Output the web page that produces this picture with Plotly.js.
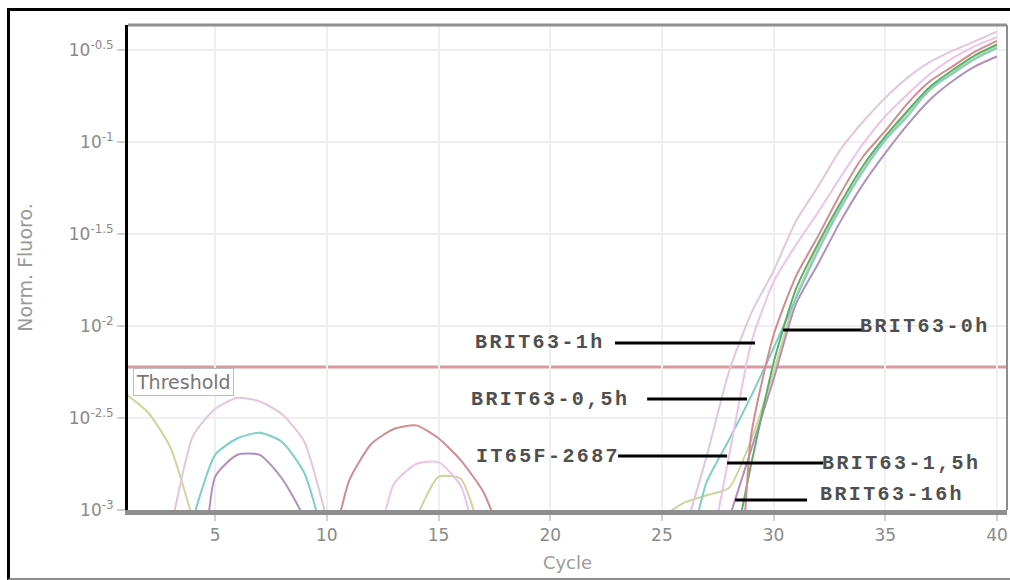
<!DOCTYPE html>
<html>
<head>
<meta charset="utf-8">
<script src="https://cdn.plot.ly/plotly-3.0.1.min.js"></script>
<style>
html,body{margin:0;padding:0;background:#fff;}
#wrap{position:relative;width:1010px;height:580px;overflow:hidden;}
#chart{position:absolute;left:0;top:0;width:1010px;height:580px;}
#frame{position:absolute;left:7px;top:8px;width:1003px;height:572px;box-sizing:border-box;border-top:3px solid #000;border-left:3px solid #000;border-bottom:2px solid #8c8c8c;pointer-events:none;}
text[style*="Liberation Mono"]{letter-spacing:2.4px;}
</style>
</head>
<body>
<div id="wrap"><div id="chart"></div><div id="frame"></div></div>
<script>
// Cycles 1..40
const cycles = [1,2,3,4,5,6,7,8,9,10,11,12,13,14,15,16,17,18,19,20,21,22,23,24,25,26,27,28,29,30,31,32,33,34,35,36,37,38,39,40];

// log10 of normalised fluorescence per cycle (values below 10^-3 fall off the axis)
const pinkA = [-3.5,-3.5,-3.1,-2.6,-2.45,-2.39,-2.41,-2.48,-2.63,-3.05,
  -3.5,-3.5,-3.5,-3.5,-3.5,-3.5,-3.5,-3.5,-3.5,-3.5,
  -3.5,-3.5,-3.5,-3.5,-3.5,-3.12,-2.71,-2.25,-1.93,-1.70,
  -1.43,-1.24,-1.04,-0.89,-0.76,-0.65,-0.565,-0.505,-0.453,-0.40];
const pinkB = [-3.5,-3.5,-3.5,-3.5,-3.5,-3.5,-3.5,-3.5,-3.5,-3.5,
  -3.5,-3.3,-2.86,-2.75,-2.74,-2.87,-3.3,-3.5,-3.5,-3.5,
  -3.5,-3.5,-3.5,-3.5,-3.5,-3.5,-3.29,-2.71,-2.09,-1.76,
  -1.56,-1.38,-1.19,-1.01,-0.86,-0.74,-0.63,-0.545,-0.48,-0.43];
const red = [-3.5,-3.5,-3.5,-3.5,-3.5,-3.5,-3.5,-3.5,-3.5,-3.3,
  -2.84,-2.64,-2.56,-2.54,-2.61,-2.73,-2.9,-3.2,-3.5,-3.5,
  -3.5,-3.5,-3.5,-3.5,-3.5,-3.5,-3.8,-4.0,-2.59,-2.05,
  -1.73,-1.51,-1.28,-1.08,-0.94,-0.79,-0.67,-0.59,-0.51,-0.45];
const green = [-3.5,-3.5,-3.5,-3.5,-3.5,-3.5,-3.5,-3.5,-3.5,-3.5,
  -3.5,-3.5,-3.5,-3.5,-3.5,-3.5,-3.5,-3.5,-3.5,-3.5,
  -3.5,-3.5,-3.5,-3.5,-3.5,-3.5,-3.5,-3.3,-2.75,-2.2,
  -1.80,-1.55,-1.33,-1.13,-0.97,-0.83,-0.70,-0.61,-0.53,-0.47];
const teal = [-3.5,-3.5,-3.5,-3.05,-2.7,-2.61,-2.58,-2.63,-2.8,-3.2,
  -3.5,-3.5,-3.5,-3.5,-3.5,-3.5,-3.5,-3.5,-3.5,-3.5,
  -3.5,-3.5,-3.5,-3.5,-3.5,-3.3,-2.85,-2.62,-2.38,-2.12,
  -1.85,-1.59,-1.36,-1.16,-0.99,-0.86,-0.71,-0.63,-0.55,-0.49];
const yellow = [-2.37,-2.47,-2.66,-3.05,-3.5,-3.5,-3.5,-3.5,-3.5,-3.5,
  -3.5,-3.5,-3.5,-3.05,-2.82,-2.83,-3.17,-3.5,-3.5,-3.5,
  -3.5,-3.5,-3.5,-3.5,-3.05,-2.96,-2.92,-2.88,-2.62,-2.25,
  -1.84,-1.57,-1.35,-1.15,-0.99,-0.84,-0.72,-0.62,-0.545,-0.48];
const purple = [-3.5,-3.5,-3.5,-4.0,-2.82,-2.7,-2.7,-2.83,-3.05,-3.5,
  -3.5,-3.5,-3.5,-3.5,-3.5,-3.5,-3.5,-3.5,-3.5,-3.5,
  -3.5,-3.5,-3.5,-3.5,-3.5,-3.5,-3.4,-3.05,-2.67,-2.29,
  -1.88,-1.66,-1.43,-1.23,-1.06,-0.905,-0.77,-0.67,-0.59,-0.535];

const thresholdLog = -2.223;

const xTickVals = [5,10,15,20,25,30,35,40];
const yTickExp = [-3,-2.5,-2,-1.5,-1,-0.5];
const yTickText = ['10<sup>-3</sup>','10<sup>-2.5</sup>','10<sup>-2</sup>','10<sup>-1.5</sup>','10<sup>-1</sup>','10<sup>-0.5</sup>'];

// sample labels: text, arrow tip (cycle, log), line start cycle, text anchor cycle/log, side
const labelText = ['BRIT63-1h','BRIT63-0,5h','IT65F-2687','BRIT63-0h','BRIT63-1,5h','BRIT63-16h'];
const labelTipX = [29.17, 28.81, 27.92, 30.43, 27.92, 28.28];
const labelTipY = [-2.092, -2.397, -2.707, -2.022, -2.745, -2.946];
const labelTailX = [22.9, 24.34, 23.04, 34.0, 32.22, 31.5];
const labelTextX = [22.55, 23.6, 23.2, 33.8, 32.08, 31.99];
const labelTextY = [-2.092, -2.397, -2.707, -2.0, -2.745, -2.918];
const labelSide = ['right','right','right','left','left','left'];

const series = [
  {y: yellow, color: '#cdd59a'},
  {y: purple, color: '#b290bc'},
  {y: teal, color: '#7dd0c4'},
  {y: green, color: '#5fae6f'},
  {y: red, color: '#d38c8c'},
  {y: pinkB, color: '#efc2ea'},
  {y: pinkA, color: '#e4c6dc'}
];

const traces = series.map(s => ({
  x: cycles,
  y: s.y.map(v => Math.pow(10, v)),
  type: 'scatter',
  mode: 'lines',
  line: {color: s.color, width: 2, shape: 'spline', smoothing: 0.6},
  hoverinfo: 'skip'
}));

const shapes = [
  {type:'line', xref:'paper', yref:'y', x0:0, x1:1, y0:Math.pow(10,thresholdLog), y1:Math.pow(10,thresholdLog), line:{color:'#d99a9e', width:3}, layer:'between'},
  {type:'line', xref:'paper', yref:'paper', x0:0, x1:1, y0:1, y1:1, line:{color:'#8e8e8e', width:3}, layer:'above'},
  {type:'line', xref:'paper', yref:'paper', x0:1, x1:1, y0:0, y1:1, line:{color:'#8e8e8e', width:2}, layer:'above'}
];
labelText.forEach((t,i) => {
  shapes.push({type:'line', xref:'x', yref:'y', x0:labelTailX[i], x1:labelTipX[i],
    y0:Math.pow(10,labelTipY[i]), y1:Math.pow(10,labelTipY[i]), line:{color:'#000', width:3}, layer:'above'});
});

const annotations = [
  {text:'Threshold', xref:'x', yref:'y', x:1.33, y:-2.307, xanchor:'left', yanchor:'middle', showarrow:false,
   font:{family:'DejaVu Sans', size:19, color:'#777'}, bgcolor:'#fff', bordercolor:'#bdbdbd', borderwidth:1, borderpad:2}
];
labelText.forEach((t,i) => {
  annotations.push({text:t, xref:'x', yref:'y', x:labelTextX[i], y:labelTextY[i], xanchor:labelSide[i], yanchor:'middle',
    showarrow:false, font:{family:'Liberation Mono', size:20, color:'#4f4f4f', weight:'bold'}});
});

const tickFont = {family:'DejaVu Sans', size:17, color:'#8a8a8a'};
const layout = {
  width: 1010, height: 580,
  margin: {l:128, r:3, t:25, b:70, pad:0},
  paper_bgcolor: '#fff', plot_bgcolor: '#fff',
  showlegend: false,
  xaxis: {
    range: [1.1, 40.45], tickvals: xTickVals, ticktext: xTickVals.map(String),
    showgrid: true, gridcolor: '#efefef', gridwidth: 2, zeroline: false,
    showline: true, linecolor: '#8e8e8e', linewidth: 5,
    ticks: 'outside', ticklen: 6, tickwidth: 2, tickcolor: '#d0d0d0',
    tickfont: tickFont,
    title: {text: 'Cycle', font: {family:'DejaVu Sans', size:18, color:'#9a9a9a'}, standoff: 13}
  },
  yaxis: {
    type: 'log', range: [-3, -0.364],
    tickvals: yTickExp.map(e => Math.pow(10, e)), ticktext: yTickText,
    showgrid: true, gridcolor: '#efefef', gridwidth: 2, zeroline: false,
    showline: true, linecolor: '#000', linewidth: 3,
    ticks: 'outside', ticklen: 8, tickwidth: 2, tickcolor: '#d0d0d0',
    tickfont: tickFont,
    title: {text: 'Norm. Fluoro.', font: {family:'DejaVu Sans', size:19, color:'#9a9a9a'}, standoff: 32}
  },
  shapes: shapes,
  annotations: annotations
};

Plotly.newPlot('chart', traces, layout, {displayModeBar: false, staticPlot: true});
</script>
</body>
</html>
